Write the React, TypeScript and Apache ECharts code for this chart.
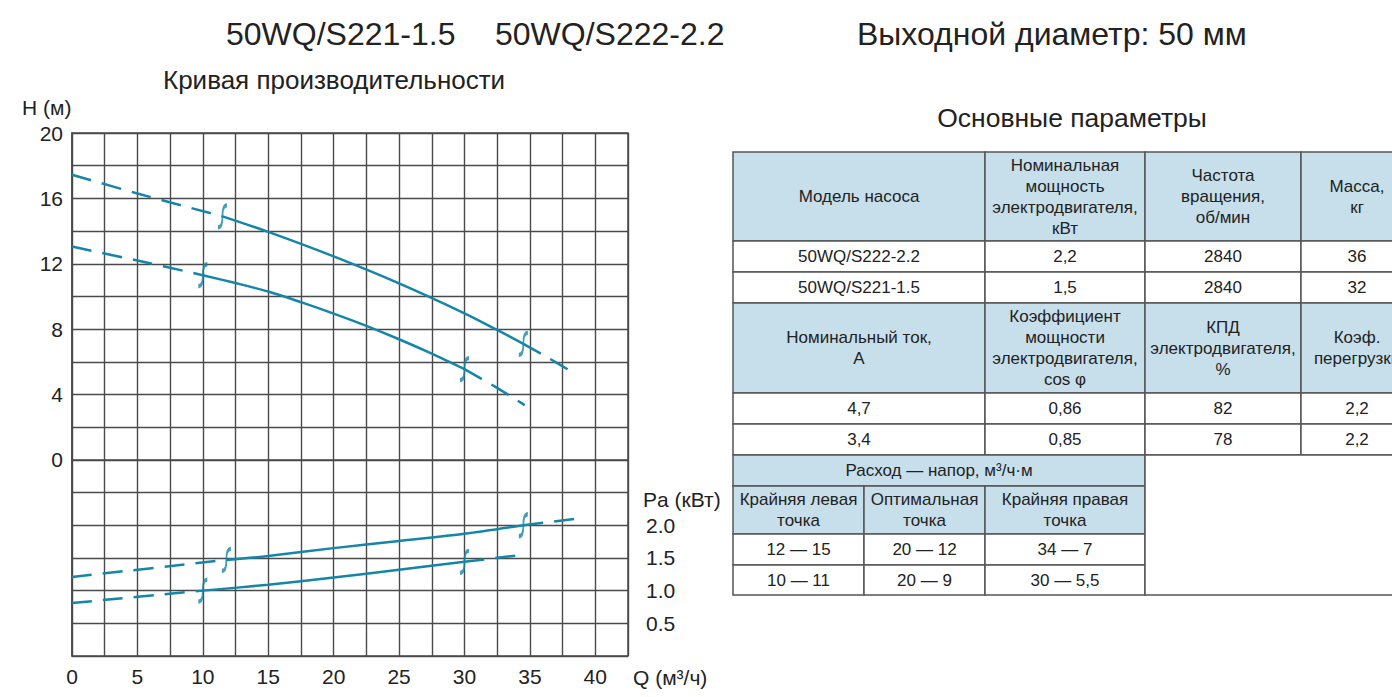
import React, { useEffect, useRef } from "react";
import * as echarts from "echarts";

// ---- Chart data (Q in m³/h, H in m, P in kW) ----
// 50WQ/S222-2.2 head curve
const h222Left = [[0, 17.45], [5, 16.3], [11.5, 14.9]];
const h222Main = [[11.5, 14.9], [15, 13.95], [20, 12.45], [25, 10.8], [30, 8.97], [32.5, 7.95], [34.5, 7.1]];
const h222Right = [[34.5, 7.1], [36.5, 6.2], [38.6, 5.2]];
// 50WQ/S221-1.5 head curve
const h221Left = [[0, 13.05], [5, 12.2], [10, 11.3]];
const h221Main = [[10, 11.3], [12.5, 10.82], [15, 10.3], [17.5, 9.65], [20, 8.95], [22.5, 8.2], [25, 7.38], [27.5, 6.5], [30, 5.55]];
const h221Right = [[30, 5.55], [32.3, 4.5], [34.6, 3.35]];
// 50WQ/S222-2.2 power curve
const p222Left = [[0, 1.21], [11.8, 1.47]];
const p222Main = [[11.8, 1.47], [15, 1.53], [20, 1.65], [25, 1.76], [30, 1.87], [34.5, 2.0]];
const p222Right = [[34.5, 2.0], [38.5, 2.1]];
// 50WQ/S221-1.5 power curve
const p221Left = [[0, 0.81], [10, 1.0]];
const p221Main = [[10, 1.0], [15, 1.09], [20, 1.2], [25, 1.32], [30, 1.44]];
const p221Right = [[30, 1.44], [34.7, 1.555]];

// ---- Texts ----
const modelTitles = ["50WQ/S221-1.5", "50WQ/S222-2.2"];
const outletText = "Выходной диаметр: 50 мм";
const chartTitle = "Кривая производительности";
const tableTitle = "Основные параметры";
const hAxisName = "H (м)";
const pAxisName = "Pa (кВт)";
const qAxisName = "Q (м³/ч)";

const header1 = ["Модель насоса", "Номинальная\nмощность\nэлектродвигателя,\nкВт", "Частота\nвращения,\nоб/мин", "Масса,\nкг"];
const rows1 = [
  ["50WQ/S222-2.2", "2,2", "2840", "36"],
  ["50WQ/S221-1.5", "1,5", "2840", "32"],
];
const header2 = ["Номинальный ток,\nА", "Коэффициент\nмощности\nэлектродвигателя,\ncos φ", "КПД\nэлектродвигателя,\n%", "Коэф.\nперегрузки"];
const rows2 = [
  ["4,7", "0,86", "82", "2,2"],
  ["3,4", "0,85", "78", "2,2"],
];
const header3 = "Расход — напор, м³/ч·м";
const subHeader3 = ["Крайняя левая\nточка", "Оптимальная\nточка", "Крайняя правая\nточка"];
const rows3 = [
  ["12 — 15", "20 — 12", "34 — 7"],
  ["10 — 11", "20 — 9", "30 — 5,5"],
];

// ---- Layout / style ----
const TEAL = "#1585a8";
const GRIDC = "#4a4a4a";
const TXT = "#222";
const FONT = "'Liberation Sans', Arial, sans-serif";
const HEADFILL = "#c7dfeb";
const colX = [733, 985, 1145, 1301, 1413];
const rowY = [152, 241, 272, 303, 393, 424, 455];
const s3ColX = [733, 864, 985, 1145];
const s3RowY = [455, 486, 534, 565, 595];

function cell(x0: number, y0: number, x1: number, y1: number, text: string, fill: string) {
  return [
    {
      type: "rect",
      shape: { x: x0, y: y0, width: x1 - x0, height: y1 - y0 },
      style: { fill, stroke: "#555", lineWidth: 1.5 },
      z: 10,
    },
    {
      type: "text",
      x: (x0 + x1) / 2,
      y: (y0 + y1) / 2,
      style: {
        text,
        align: "center",
        verticalAlign: "middle",
        fontSize: 17,
        lineHeight: 21,
        fontFamily: FONT,
        fill: TXT,
      },
      z: 11,
    },
  ];
}

function buildTable() {
  const els: any[] = [];
  header1.forEach((t, i) => els.push(...cell(colX[i], rowY[0], colX[i + 1], rowY[1], t, HEADFILL)));
  rows1.forEach((r, ri) =>
    r.forEach((t, i) => els.push(...cell(colX[i], rowY[1 + ri], colX[i + 1], rowY[2 + ri], t, "#fff")))
  );
  header2.forEach((t, i) => els.push(...cell(colX[i], rowY[3], colX[i + 1], rowY[4], t, HEADFILL)));
  rows2.forEach((r, ri) =>
    r.forEach((t, i) => els.push(...cell(colX[i], rowY[4 + ri], colX[i + 1], rowY[5 + ri], t, "#fff")))
  );
  els.push(...cell(s3ColX[0], s3RowY[0], s3ColX[3], s3RowY[1], header3, HEADFILL));
  subHeader3.forEach((t, i) => els.push(...cell(s3ColX[i], s3RowY[1], s3ColX[i + 1], s3RowY[2], t, HEADFILL)));
  rows3.forEach((r, ri) =>
    r.forEach((t, i) => els.push(...cell(s3ColX[i], s3RowY[2 + ri], s3ColX[i + 1], s3RowY[3 + ri], t, "#fff")))
  );
  els.push(...cell(s3ColX[3], s3RowY[0], colX[4], s3RowY[4], "", "#fff"));
  return els;
}

function label(text: string, x: number, y: number, size: number, align = "left") {
  return {
    type: "text",
    x,
    y,
    style: { text, align, verticalAlign: "middle", fontSize: size, fontFamily: FONT, fill: TXT },
    z: 5,
  };
}

function curve(data: number[][], yAxisIndex: number, dashed: boolean) {
  return {
    type: "line",
    data,
    yAxisIndex,
    showSymbol: false,
    smooth: 0.3,
    silent: true,
    z: 3,
    lineStyle: { color: TEAL, width: 2.5, type: dashed ? [20, 11] : "solid" },
  };
}

const TICK_SYMBOL = "path://M10,0 C6,0 5,4 5,10 C5,16 4,20 0,20";

function marks(data: number[][], yAxisIndex: number) {
  return {
    type: "scatter",
    data,
    yAxisIndex,
    symbol: TICK_SYMBOL,
    symbolSize: [9, 22],
    silent: true,
    z: 4,
    itemStyle: { color: "rgba(0,0,0,0)", borderColor: TEAL, borderWidth: 2.8 },
  };
}

export default function App() {
  const ref = useRef<HTMLDivElement>(null);
  useEffect(() => {
    document.body.style.margin = "0";
    if (!ref.current) return;
    const chart = echarts.init(ref.current, null, { renderer: "svg" });
    const last = (a: number[][]) => a[a.length - 1];
    chart.setOption({
      animation: false,
      backgroundColor: "#fff",
      textStyle: { fontFamily: FONT },
      grid: {
        left: 72,
        top: 133,
        width: 556,
        height: 523,
        show: true,
        borderColor: GRIDC,
        borderWidth: 1.5,
      },
      xAxis: {
        type: "value",
        min: 0,
        max: 42.5,
        interval: 2.5,
        axisLine: { show: true, lineStyle: { color: GRIDC, width: 1.5 } },
        axisTick: { show: false },
        splitLine: { show: true, lineStyle: { color: GRIDC, width: 1.4 } },
        axisLabel: {
          fontSize: 21,
          color: TXT,
          margin: 10,
          fontFamily: FONT,
          formatter: (v: number) => (v % 5 === 0 && v <= 40 ? String(v) : ""),
        },
      },
      yAxis: [
        {
          type: "value",
          min: -12,
          max: 20,
          interval: 2,
          axisLine: { show: true, lineStyle: { color: GRIDC, width: 1.5 } },
          axisTick: { show: false },
          splitLine: { show: true, lineStyle: { color: GRIDC, width: 1.4 } },
          axisLabel: {
            fontSize: 21,
            color: TXT,
            margin: 9,
            fontFamily: FONT,
            formatter: (v: number) => (v >= 0 && v % 4 === 0 ? String(v) : ""),
          },
        },
        {
          type: "value",
          position: "right",
          min: 0,
          max: 8,
          interval: 0.5,
          axisLine: { show: false },
          axisTick: { show: false },
          splitLine: { show: false },
          axisLabel: {
            fontSize: 21,
            color: TXT,
            margin: 18,
            fontFamily: FONT,
            formatter: (v: number) => (v >= 0.5 && v <= 2 ? v.toFixed(1) : ""),
          },
        },
      ],
      series: [
        curve(h222Left, 0, true),
        curve(h222Main, 0, false),
        curve(h222Right, 0, true),
        curve(h221Left, 0, true),
        curve(h221Main, 0, false),
        curve(h221Right, 0, true),
        curve(p222Left, 1, true),
        curve(p222Main, 1, false),
        curve(p222Right, 1, true),
        curve(p221Left, 1, true),
        curve(p221Main, 1, false),
        curve(p221Right, 1, true),
        marks([h222Main[0], last(h222Main), h221Main[0], last(h221Main)], 0),
        marks([p222Main[0], last(p222Main), p221Main[0], last(p221Main)], 1),
      ],
      graphic: [
        label(modelTitles[0], 226, 34, 32),
        label(modelTitles[1], 495, 34, 32),
        label(outletText, 857, 34, 32),
        label(chartTitle, 163, 80, 26),
        label(tableTitle, 1072, 118, 26.5, "center"),
        label(hAxisName, 22, 107, 21),
        label(pAxisName, 643, 499, 21),
        label(qAxisName, 633, 677, 21),
        ...buildTable(),
      ],
    });
    return () => chart.dispose();
  }, []);
  return <div ref={ref} style={{ width: 1392, height: 697 }} />;
}
